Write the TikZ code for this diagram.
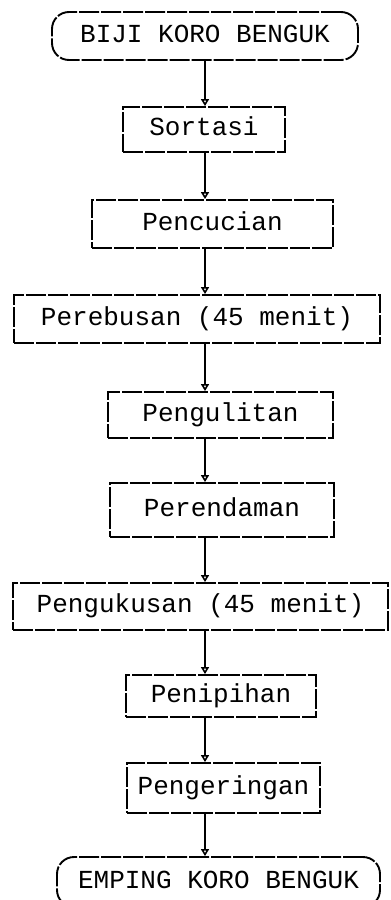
\documentclass[tikz,border=0pt]{standalone}
\usepackage{fontspec}
\setmonofont{Liberation Mono}
\usetikzlibrary{arrows.meta}
\begin{document}
\begin{tikzpicture}[x=1pt,y=-1pt,
  every node/.append style={font=\ttfamily\fontsize{26}{30}\selectfont},
  procbox/.style={draw, line width=1.9pt, dash pattern=on 20pt off 2pt,
    inner sep=0pt, text height=17pt, text depth=5pt},
  termbox/.style={procbox, rounded corners=17pt},
  arr/.style={-{Triangle[open,length=7pt,width=8pt]}, line width=1.6pt}]
\useasboundingbox (0,0) rectangle (391,900);
\clip (0,0) rectangle (391,900);
\coordinate (ax) at (205,0);
\node[termbox, minimum width=306pt, minimum height=48pt] (n1) at (205,36) {BIJI KORO BENGUK};
\node[procbox, minimum width=162pt, minimum height=45pt] (n2) at (204,129.5) {Sortasi};
\node[procbox, minimum width=241pt, minimum height=48pt] (n3) at (212.5,224) {Pencucian};
\node[procbox, minimum width=366pt, minimum height=48pt] (n4) at (197,319) {Perebusan (45 menit)};
\node[procbox, minimum width=225pt, minimum height=46pt] (n5) at (220.5,415) {Pengulitan};
\node[procbox, minimum width=224pt, minimum height=54pt] (n6) at (222,510) {Perendaman};
\node[procbox, minimum width=375pt, minimum height=47pt] (n7) at (200.5,606.5) {Pengukusan (45 menit)};
\node[procbox, minimum width=190pt, minimum height=42pt] (n8) at (221,696) {Penipihan};
\node[procbox, minimum width=193pt, minimum height=50pt] (n9) at (223.5,788) {Pengeringan};
\node[termbox, minimum width=323pt, minimum height=50pt] (n10) at (218.5,882) {EMPING KORO BENGUK};
\foreach \a/\b in {n1/n2,n2/n3,n3/n4,n4/n5,n5/n6,n6/n7,n7/n8,n8/n9,n9/n10}
  \draw[arr] (\a.south -| ax) -- (\b.north -| ax);
\end{tikzpicture}
\end{document}
